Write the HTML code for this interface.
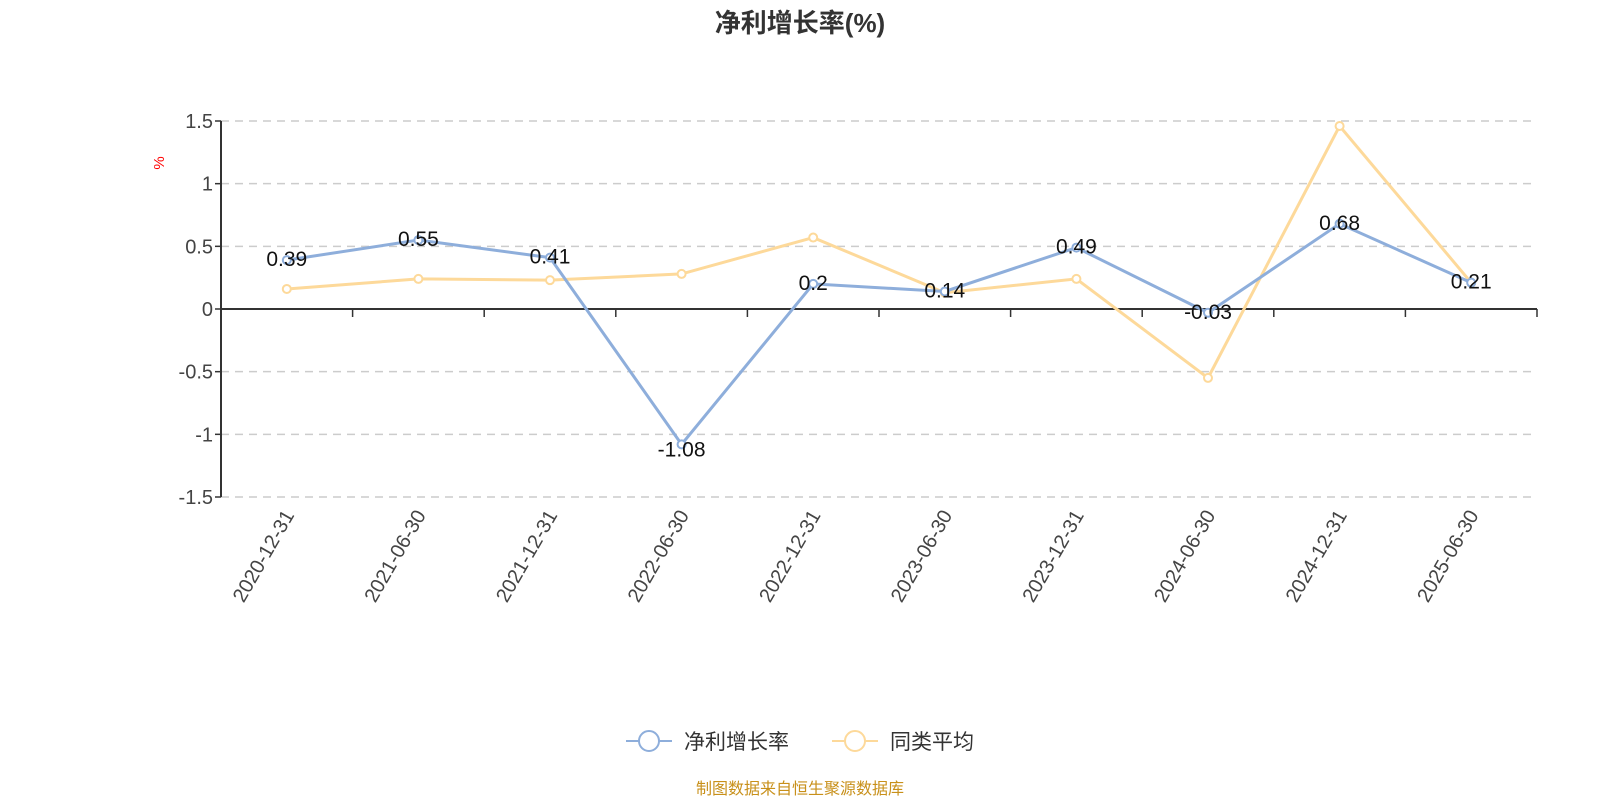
<!DOCTYPE html>
<html><head><meta charset="utf-8"><style>
body{margin:0;background:#fff;width:1600px;height:800px;overflow:hidden;font-family:"Liberation Sans","Noto Sans CJK SC",sans-serif}
</style></head><body>
<svg id="c" width="1600" height="800" xmlns="http://www.w3.org/2000/svg" font-family="Liberation Sans, Noto Sans CJK SC, sans-serif">
<text x="800" y="32" text-anchor="middle" font-size="26" font-weight="bold" fill="#333">净利增长率(%)</text>
<text x="0" y="0" transform="translate(164,163) rotate(-90)" text-anchor="middle" font-size="15" fill="red">%</text>
<g id="grid"></g><g id="axes"></g><g id="series"></g>
<g>
<line x1="626" y1="741" x2="672" y2="741" stroke="#8eaedb" stroke-width="2"/><circle cx="649" cy="741" r="10" fill="#fff" stroke="#8eaedb" stroke-width="2"/>
<text x="684" y="749" font-size="21" fill="#333">净利增长率</text>
<line x1="832" y1="741" x2="878" y2="741" stroke="#fdd99a" stroke-width="2"/><circle cx="855" cy="741" r="10" fill="#fff" stroke="#fdd99a" stroke-width="2"/>
<text x="890" y="749" font-size="21" fill="#333">同类平均</text>
</g>
<text x="800" y="794" text-anchor="middle" font-size="16" fill="#c8901a">制图数据来自恒生聚源数据库</text>
</svg>
<script>
const categories=["2020-12-31","2021-06-30","2021-12-31","2022-06-30","2022-12-31","2023-06-30","2023-12-31","2024-06-30","2024-12-31","2025-06-30"];
const netGrowth=[0.39,0.55,0.41,-1.08,0.2,0.14,0.49,-0.03,0.68,0.21];
const peerAvg=[0.16,0.24,0.23,0.28,0.57,0.13,0.24,-0.55,1.46,0.21];
const yTicks=[1.5,1,0.5,0,-0.5,-1,-1.5];
const NS="http://www.w3.org/2000/svg";
const L=221,R=1537,T=121,B=497,ymin=-1.5,ymax=1.5;
const step=(R-L)/categories.length;
const xS=i=>L+step*(i+0.5);
const yS=v=>B-(v-ymin)/(ymax-ymin)*(B-T);
function mk(tag,attrs,parent,txt){const e=document.createElementNS(NS,tag);for(const k in attrs)e.setAttribute(k,attrs[k]);if(txt!==undefined)e.textContent=txt;parent.appendChild(e);return e;}
const grid=document.getElementById('grid'),axes=document.getElementById('axes'),ser=document.getElementById('series');
yTicks.forEach(v=>{
 if(v!==0){const g=mk('line',{x1:L,x2:R,y1:yS(v),y2:yS(v),stroke:'#ccc','stroke-width':1.5,'stroke-dasharray':'8,6'},grid);
 
 }
 const t=mk('text',{x:L-8,y:yS(v)+7,'text-anchor':'end','font-size':20,fill:'#444'},axes,String(v));
 
 
 mk('line',{x1:L-6,x2:L,y1:yS(v),y2:yS(v),stroke:'#333','stroke-width':1.5},axes);
});
const ya=mk('line',{x1:L,x2:L,y1:T,y2:B,stroke:'#333','stroke-width':2},axes);


const xa=mk('line',{x1:L,x2:R,y1:yS(0),y2:yS(0),stroke:'#333','stroke-width':2},axes);


for(let i=0;i<=categories.length;i++){if(i>0)mk('line',{x1:L+step*i,x2:L+step*i,y1:yS(0),y2:yS(0)+8,stroke:'#333','stroke-width':1.5},axes);}
categories.forEach((c,i)=>{
 const t=mk('text',{x:0,y:0,transform:`translate(${xS(i)+8},${B+18}) rotate(-60)`,'text-anchor':'end','font-size':20,fill:'#444'},axes,c);
 
 
});
function draw(data,color,name,labels){
 const p=mk('polyline',{points:data.map((v,i)=>xS(i)+','+yS(v)).join(' '),fill:'none',stroke:color,'stroke-width':3},ser);
 
 
 data.forEach((v,i)=>{
  const c=mk('circle',{cx:xS(i),cy:yS(v),r:4,fill:'#fff',stroke:color,'stroke-width':2},ser);
  
  
 });
}
draw(peerAvg,'#fdd99a','peer-average');
draw(netGrowth,'#8eaedb','net-growth');
netGrowth.forEach((v,i)=>{
 const t=mk('text',{x:xS(i),y:yS(v)+(v<-0.5?12:6),'text-anchor':'middle','font-size':21,fill:'#111'},ser,String(v));
 
 
});
</script>
</body></html>
